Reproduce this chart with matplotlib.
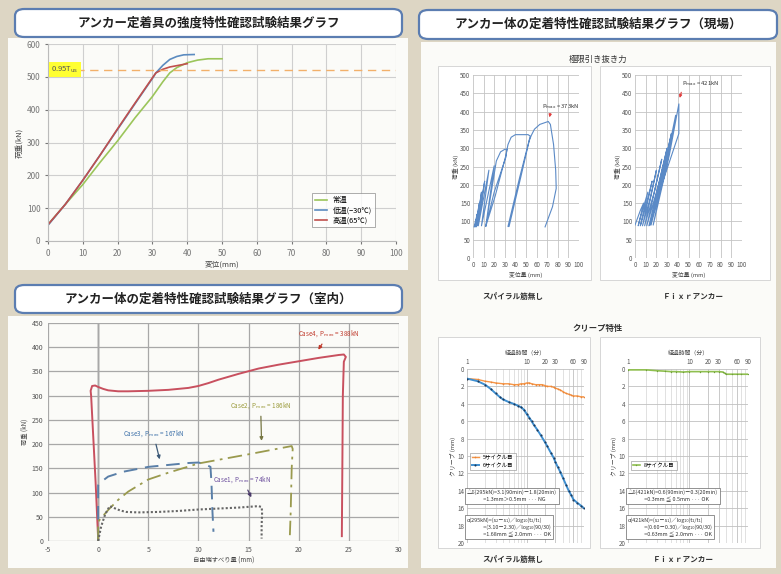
import matplotlib
matplotlib.use('Agg')
import matplotlib.pyplot as plt
from matplotlib.patches import Rectangle, FancyBboxPatch
from matplotlib.ticker import NullFormatter

plt.rcParams['font.family'] = ['Noto Sans CJK JP', 'DejaVu Sans']
plt.rcParams['axes.unicode_minus'] = False

W, H = 781, 574

# ---- data: anchor fixing device strength (top left) ----
room_x = [0, 5, 10, 15, 20, 25, 30, 33, 35, 37, 40, 43, 46, 50]
room_y = [50, 112, 172, 240, 305, 375, 440, 485, 512, 528, 543, 551, 555, 555]
cold_x = [0, 5, 10, 15, 20, 25, 30, 31, 33, 35, 37, 39, 42]
cold_y = [48, 112, 185, 262, 340, 418, 495, 512, 535, 553, 562, 567, 568]
hot_x = [0, 5, 10, 15, 20, 25, 30, 31, 33, 35, 38, 40]
hot_y = [50, 112, 185, 262, 342, 420, 497, 512, 523, 530, 536, 540]
tus_line = 522
tl_labels = ['常温', '低温(−30℃)', '高温(65℃)']

# ---- data: indoor test (bottom left) ----
case4_x = [0, -0.1, -0.25, -0.45, -0.6, -0.7, -0.75, -0.6, -0.3, 0, 0.5, 1, 2, 3, 5, 7, 9, 10, 11, 12,
           14, 16, 18, 20, 22, 23, 24, 24.5, 24.7, 24.5, 24.4, 24.35, 24.3]
case4_y = [5, 50, 120, 200, 260, 300, 310, 320, 321, 318, 314, 311, 309, 309, 310, 312, 316, 320, 326, 333,
           345, 356, 364, 371, 378, 381, 384, 385, 380, 370, 300, 150, 10]
case3_x = [0, 0, 0.3, 1, 2.5, 5, 7, 9, 10, 10.7, 11.2, 11.3, 11.4, 11.5]
case3_y = [0, 115, 122, 133, 143, 153, 157, 161, 162, 158, 153, 120, 60, 19]
case2_x = [0, 0, 1, 2, 3, 5, 7, 10, 15, 19.3, 19.4, 19.3, 19.2, 19.1]
case2_y = [0, 40, 64, 85, 102, 127, 141, 160, 179, 196, 190, 150, 60, 2]
case1_x = [0, 0.3, 0.7, 1.15, 1.6, 2.2, 2.8, 4, 6, 8, 10, 12, 14, 16, 16.3, 16.35, 16.3, 16.3]
case1_y = [0, 30, 55, 72, 68, 63, 60, 59, 60, 62, 65, 67, 69, 72, 70, 60, 30, 5]

# ---- data: field pull-out (top right) ----
spiral_x = [1, 4, 2, 6, 3, 8, 4, 11, 5, 15, 8, 20, 12, 22, 26, 30, 32, 31, 20, 12, 21, 31, 33, 36, 40,
            52, 54, 44, 33, 34, 45, 53, 55, 58, 63, 68, 71, 73, 76, 78, 78.5, 75, 68]
spiral_y = [85, 120, 85, 150, 85, 180, 88, 210, 88, 240, 88, 252, 86, 265, 290, 297, 297, 275, 180, 86,
            170, 280, 310, 330, 337, 337, 333, 220, 86, 86, 220, 320, 335, 352, 365, 370, 373, 365, 310,
            240, 190, 140, 85]
fixr_x = [0, 5, 8, 3, 6, 12, 5, 10, 16, 7, 14, 20, 9, 18, 25, 11, 22, 30, 13, 25, 34, 15, 30, 38, 17,
          32, 41, 41, 37, 25, 14]
fixr_y = [90, 130, 150, 88, 120, 180, 88, 140, 210, 88, 160, 240, 88, 180, 270, 88, 200, 300, 88, 220,
          340, 90, 260, 390, 90, 280, 421, 340, 305, 200, 90]

# ---- data: creep (bottom right) ----
c5_t = [1, 1.5, 2, 2.5, 3, 4, 5, 6, 7, 8, 9, 10, 11, 12, 14, 16, 18, 20, 22, 25, 28, 30, 33, 36, 40, 45,
        50, 55, 60, 70, 80, 90]
c5_s = [1.1, 1.2, 1.4, 1.5, 1.6, 1.7, 1.7, 1.8, 1.8, 1.7, 1.7, 1.6, 1.6, 1.7, 1.8, 1.8, 1.8, 1.9, 2.0,
        2.0, 2.1, 2.2, 2.3, 2.4, 2.6, 2.8, 2.9, 3.0, 3.1, 3.1, 3.2, 3.2]
c6_t = [1, 1.5, 2, 2.5, 3, 3.5, 4, 5, 6, 7, 8, 9, 10, 11, 12, 13, 15, 17, 20, 22, 25, 28, 30, 33, 36, 40,
        45, 50, 55, 60, 70, 80, 90]
c6_s = [1.1, 1.4, 1.8, 2.3, 2.8, 3.2, 3.5, 3.8, 4.0, 4.2, 4.4, 4.7, 5.2, 5.6, 6.0, 6.4, 7.0, 7.6, 8.4,
        8.9, 9.6, 10.2, 10.7, 11.3, 11.8, 12.5, 13.3, 14.0, 14.5, 15.0, 15.4, 15.7, 16.0]
c8_t = [1, 2, 3, 4, 5, 6, 8, 10, 15, 20, 25, 30, 35, 38, 40, 50, 60, 70, 90]
c8_s = [0.1, 0.1, 0.2, 0.25, 0.3, 0.3, 0.35, 0.3, 0.3, 0.3, 0.3, 0.3, 0.35, 0.5, 0.6, 0.6, 0.6, 0.6, 0.6]
time_ticks = [1, 10, 20, 30, 60, 90]

BG = '#ddd6c4'
PANEL = '#fbfbf8'
EDGE = '#5b7db1'

fig = plt.figure(figsize=(W / 100, H / 100), dpi=100, facecolor=BG)


def fr(l, t, r, b):
    return [l / W, 1 - b / H, (r - l) / W, (b - t) / H]


def panel(l, t, r, b, fc, ec='none', lw=0.0, z=-5):
    fig.add_artist(Rectangle((l / W, 1 - b / H), (r - l) / W, (b - t) / H, transform=fig.transFigure,
                             facecolor=fc, edgecolor=ec, linewidth=lw, zorder=z))


def title_box(l, t, r, b, text):
    fig.add_artist(FancyBboxPatch((l / W, 1 - b / H), (r - l) / W, (b - t) / H,
                                  boxstyle='round,pad=0,rounding_size=0.012', transform=fig.transFigure,
                                  facecolor='white', edgecolor=EDGE, linewidth=1.6, zorder=-4))
    fig.text((l + r) / 2 / W, 1 - (t + b) / 2 / H, text, ha='center', va='center',
             fontsize=9, fontweight='bold', color='#222')


# panels and headers
panel(8, 38, 408, 270, PANEL)
panel(8, 316, 408, 568, PANEL)
panel(421, 42, 776, 568, PANEL)
title_box(15, 9, 402, 37, 'アンカー定着具の強度特性確認試験結果グラフ')
title_box(15, 285, 402, 313, 'アンカー体の定着特性確認試験結果グラフ（室内）')
title_box(419, 10, 777, 39, 'アンカー体の定着特性確認試験結果グラフ（現場）')
for box in [(438, 66, 591, 280), (600, 66, 770, 280), (438, 337, 590, 548), (600, 337, 760, 548)]:
    panel(*box, fc='white', ec='#d0d0d0', lw=0.6, z=-3)

# ---------- top left ----------
ax = fig.add_axes(fr(48, 44, 396, 241))
ax.set_facecolor('none')
ax.plot(room_x, room_y, color='#9bc55a', lw=1.2, label=tl_labels[0])
ax.plot(cold_x, cold_y, color='#5b8bc0', lw=1.2, label=tl_labels[1])
ax.plot(hot_x, hot_y, color='#c0504d', lw=1.2, label=tl_labels[2])
ax.axhline(tus_line, color='#f2b06a', ls=(0, (6, 4)), lw=1)
ax.text(1, tus_line, '0.95T$_{\\mathrm{us}}$', fontsize=5.5, color='#555', va='center', ha='left',
        bbox=dict(boxstyle='square,pad=0.3', fc='#ffff33', ec='none'))
ax.set_xlim(0, 100)
ax.set_ylim(0, 600)
ax.set_xticks(range(0, 101, 10))
ax.set_yticks(range(0, 601, 100))
ax.grid(True, color='#cfcfcf', lw=0.8)
ax.tick_params(labelsize=6, colors='#777', length=2)
for s in ax.spines.values():
    s.set_color('#bbbbbb')
ax.spines['top'].set_visible(False)
ax.spines['right'].set_visible(False)
ax.set_xlabel('変位(mm)', fontsize=5.5, color='#444', labelpad=2)
ax.set_ylabel('荷重(kN)', fontsize=5.5, color='#444', labelpad=2)
leg = ax.legend(loc='lower right', bbox_to_anchor=(0.95, 0.05), fontsize=5.3, frameon=True,
                fancybox=False, edgecolor='#888', handlelength=1.6, borderpad=0.4, labelspacing=0.3)
leg.get_frame().set_linewidth(0.6)

# ---------- bottom left ----------
ax = fig.add_axes(fr(48, 323, 399, 541))
ax.set_facecolor('none')
ax.plot(case4_x, case4_y, color='#c8505f', lw=1.4)
ax.plot(case3_x, case3_y, color='#5a7fa8', lw=1.4, ls=(0, (7, 4)))
ax.plot(case2_x, case2_y, color='#9a9a4e', lw=1.3, ls=(0, (8, 3, 1.5, 3)))
ax.plot(case1_x, case1_y, color='#666666', lw=1.5, ls=(0, (1, 1)))
ax.axvline(0, color='#555', lw=1, zorder=1)
ax.set_xlim(-5, 30)
ax.set_ylim(0, 450)
ax.set_xticks(range(-5, 31, 5))
ax.set_yticks(range(0, 451, 50))
ax.grid(True, color='#a8a8a8', lw=0.9)
ax.tick_params(labelsize=5, colors='#555', length=0)
for s in ax.spines.values():
    s.set_visible(False)
ax.set_xlabel('自由端すべり量 (mm)', fontsize=4.5, color='#444', labelpad=2)
ax.set_ylabel('荷重 (kN)', fontsize=4.5, color='#444', labelpad=2)
arrow = dict(arrowstyle='-|>', lw=0.9, mutation_scale=5)
ax.annotate('Case4,  P$_{\\mathrm{max}}$ = 388kN', xy=(21.8, 390), xytext=(23, 428), fontsize=4.5,
            color='#c0392b', ha='center', va='center', arrowprops=dict(arrow, color='#c0392b'))
ax.annotate('Case2,  P$_{\\mathrm{max}}$ = 186kN', xy=(16.3, 201), xytext=(16.2, 280), fontsize=4.5,
            color='#9a9a3a', ha='center', va='center', arrowprops=dict(arrow, color='#777744'))
ax.annotate('Case3,  P$_{\\mathrm{max}}$ = 167kN', xy=(6.2, 163), xytext=(5.5, 222), fontsize=4.5,
            color='#3b6fa8', ha='center', va='center', arrowprops=dict(arrow, color='#3d5a78'))
ax.annotate('Case1,  P$_{\\mathrm{max}}$ = 74kN', xy=(15.4, 85), xytext=(14.4, 127), fontsize=4.5,
            color='#6a4c9c', ha='center', va='center', arrowprops=dict(arrow, color='#4a3a6a'))

# ---------- top right ----------
fig.text(598 / W, 1 - 59 / H, '極限引き抜き力', fontsize=6, ha='center', va='center', color='#333')


def pull_axes(rect, xs, ys, label, txt_xy, tail, tip):
    a = fig.add_axes(fr(*rect))
    a.set_facecolor('none')
    a.plot(xs, ys, color='#5b8ac6', lw=0.8)
    a.set_xlim(0, 100)
    a.set_ylim(0, 500)
    a.set_xticks(range(0, 101, 10))
    a.set_yticks(range(0, 501, 50))
    a.grid(True, color='#c4c4c4', lw=0.6)
    a.tick_params(labelsize=4.5, colors='#555', length=0, pad=2)
    for s in a.spines.values():
        s.set_visible(False)
    a.set_xlabel('変位量 (mm)', fontsize=4.2, color='#444', labelpad=2)
    a.set_ylabel('荷重 (kN)', fontsize=4.2, color='#444', labelpad=1)
    a.text(txt_xy[0], txt_xy[1], 'P$_{\\mathrm{max}}$ = ' + label, fontsize=4.2, color='#333',
           ha='center', va='center')
    a.annotate('', xy=tip, xytext=tail,
               arrowprops=dict(arrowstyle='-|>', color='#e04040', lw=0.8, mutation_scale=4))
    return a


pull_axes((473, 75, 579, 258), spiral_x, spiral_y, '373kN', (83, 415), (73.5, 402), (71.5, 377))
pull_axes((635, 75, 742, 258), fixr_x, fixr_y, '421kN', (61, 478), (44, 460), (41, 430))
fig.text(513 / W, 1 - 296 / H, 'スパイラル筋無し', fontsize=5.5, fontweight='bold', ha='center',
         va='center', color='#333')
fig.text(693 / W, 1 - 296 / H, 'Ｆｉｘｒアンカー', fontsize=5.5, fontweight='bold', ha='center',
         va='center', color='#333')

# ---------- bottom right ----------
fig.text(598 / W, 1 - 328 / H, 'クリープ特性', fontsize=6, fontweight='bold', ha='center', va='center',
         color='#333')


def creep_axes(rect):
    a = fig.add_axes(fr(*rect))
    a.set_facecolor('none')
    a.set_xscale('log')
    a.set_xlim(1, 90)
    a.set_ylim(20, 0)
    a.set_xticks(time_ticks)
    a.set_xticklabels([str(v) for v in time_ticks])
    a.set_xticks([2, 3, 4, 5, 6, 7, 8, 9, 40, 50, 70, 80], minor=True)
    a.xaxis.set_minor_formatter(NullFormatter())
    a.set_yticks(range(0, 21, 2))
    a.xaxis.tick_top()
    a.xaxis.set_label_position('top')
    a.grid(True, which='major', color='#c0c0c0', lw=0.6)
    a.grid(True, which='minor', axis='x', color='#d4d4d4', lw=0.5)
    a.tick_params(which='both', labelsize=4.5, colors='#555', length=0, pad=2)
    for s in a.spines.values():
        s.set_visible(False)
    a.set_xlabel('経過時間（分）', fontsize=4.2, color='#444', labelpad=3)
    a.set_ylabel('クリープ (mm)', fontsize=4.2, color='#444', labelpad=1)
    return a


box_style = dict(boxstyle='square,pad=0.35', fc='white', ec='#666', lw=0.5)

a = creep_axes((467, 369, 584, 543))
a.plot(c5_t, c5_s, color='#f79646', lw=1.0, marker='o', ms=1.2, mfc='#e8853a', mec='none',
       label='5サイクル目')
a.plot(c6_t, c6_s, color='#3f8fd0', lw=1.4, marker='o', ms=1.5, mfc='#1b3a5c', mec='none',
       label='6サイクル目')
leg = a.legend(loc='upper left', bbox_to_anchor=(0.0, 0.535), fontsize=4, frameon=True, fancybox=False,
               edgecolor='#888', handlelength=1.2, borderpad=0.4, labelspacing=0.4)
leg.get_frame().set_linewidth(0.5)
a.text(0.0, 14.6, '△δ(295kN)=3.1(90min)－1.8(20min)\n             =1.3mm＞0.5mm ··· NG',
       fontsize=3.9, va='center', ha='left', transform=a.get_yaxis_transform(), bbox=box_style,
       color='#333', linespacing=1.4)
a.text(0.0, 18.15, 'α(295kN)=(s₂－s₁)／log₁₀(t₂/t₁)\n             =(3.10－2.30)／log₁₀(90/30)\n'
       '             =1.68mm ≦ 2.0mm ··· OK',
       fontsize=3.9, va='center', ha='left', transform=a.get_yaxis_transform(), bbox=box_style,
       color='#333', linespacing=1.4)

a = creep_axes((628, 369, 748, 543))
a.plot(c8_t, c8_s, color='#8fbf4f', lw=1.2, marker='o', ms=1.0, mfc='#6f9f3a', mec='none',
       label='8サイクル目')
leg = a.legend(loc='upper left', bbox_to_anchor=(0.0, 0.49), fontsize=4, frameon=True, fancybox=False,
               edgecolor='#888', handlelength=1.2, borderpad=0.4)
leg.get_frame().set_linewidth(0.5)
a.text(0.0, 14.6, '△δ(421kN)=0.6(90min)－0.3(20min)\n             =0.3mm ≦ 0.5mm ··· OK',
       fontsize=3.9, va='center', ha='left', transform=a.get_yaxis_transform(), bbox=box_style,
       color='#333', linespacing=1.4)
a.text(0.0, 18.15, 'α(421kN)=(s₂－s₁)／log₁₀(t₂/t₁)\n             =(0.60－0.30)／log₁₀(90/30)\n'
       '             =0.63mm ≦ 2.0mm ··· OK',
       fontsize=3.9, va='center', ha='left', transform=a.get_yaxis_transform(), bbox=box_style,
       color='#333', linespacing=1.4)

fig.text(513 / W, 1 - 559 / H, 'スパイラル筋無し', fontsize=5.5, fontweight='bold', ha='center',
         va='center', color='#333')
fig.text(683 / W, 1 - 559 / H, 'Ｆｉｘｒアンカー', fontsize=5.5, fontweight='bold', ha='center',
         va='center', color='#333')

fig.savefig('out.png', dpi=100, facecolor=BG)
